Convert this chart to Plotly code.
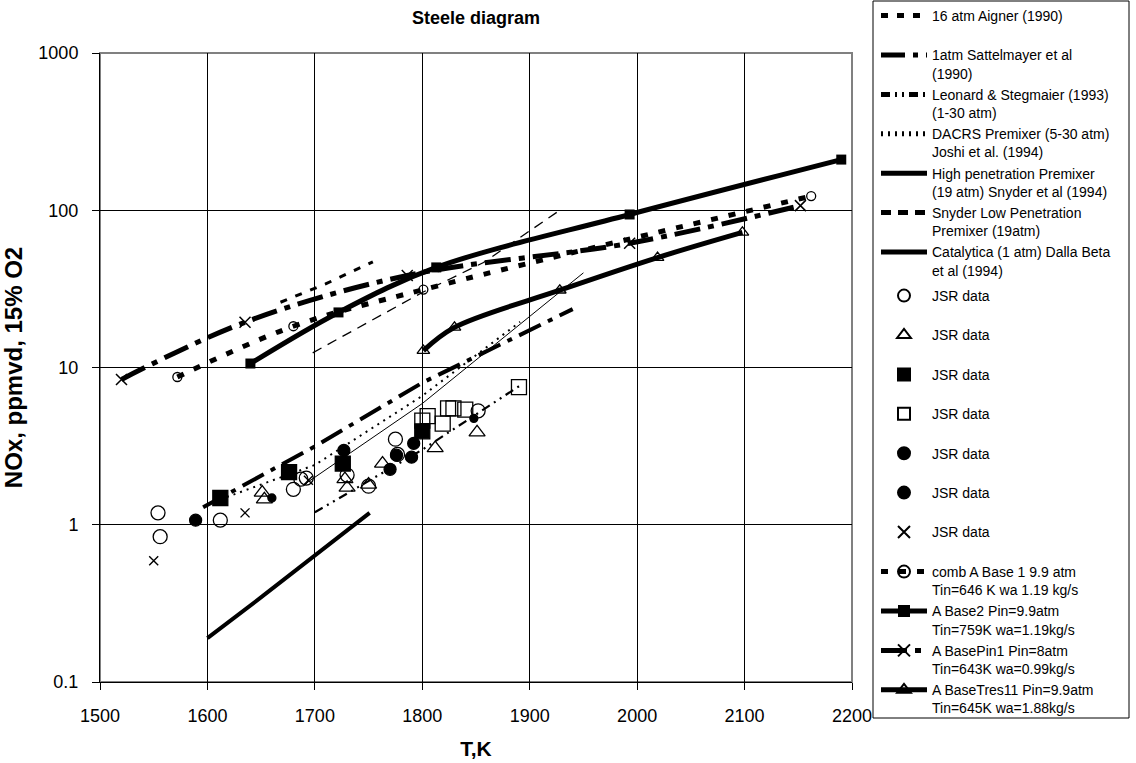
import plotly.graph_objects as go

# ---------------- data ----------------
aigner_T = [1668, 1710, 1754]
aigner_N = [26, 34, 47]

sattel_T = [1596, 1700, 1800, 1940]
sattel_N = [1.29, 3.15, 8.0, 23.5]

leonard_T = [1700, 1800, 1890]
leonard_N = [1.2, 3.0, 7.6]

dacrs_T = [1612, 1700, 1800, 1891]
dacrs_N = [1.45, 2.4, 6.6, 19.5]

highpen_T = [1690, 1800, 1950]
highpen_N = [1.8, 5.9, 40]

snyderlow_T = [1698, 1800, 1857, 1928]
snyderlow_N = [12.4, 30, 46.5, 100]

catal_T = [1600, 1651, 1751]
catal_N = [0.19, 0.35, 1.19]

jsr_oc_T = [1554, 1556, 1612, 1680, 1687, 1692, 1730, 1750, 1775, 1777, 1852]
jsr_oc_N = [1.19, 0.84, 1.07, 1.68, 1.95, 1.98, 2.07, 1.76, 3.5, 2.8, 5.3]

jsr_tri_T = [1651, 1653, 1728, 1730, 1750, 1763, 1812, 1851]
jsr_tri_N = [1.6, 1.45, 1.95, 1.72, 1.8, 2.45, 3.07, 3.87]

jsr_fsq_T = [1612, 1676, 1726, 1800]
jsr_fsq_N = [1.48, 2.16, 2.45, 3.93]

jsr_osq_T = [1800, 1805, 1819, 1824, 1829, 1840, 1890]
jsr_osq_N = [4.6, 4.9, 4.4, 5.5, 5.5, 5.4, 7.5]

jsr_fc_T = [1589, 1727, 1770, 1776, 1790, 1792]
jsr_fc_N = [1.07, 2.97, 2.25, 2.77, 2.69, 3.29]

jsr_fcs_T = [1660, 1848]
jsr_fcs_N = [1.48, 4.75]

jsr_x_T = [1550, 1635, 1694]
jsr_x_N = [0.59, 1.19, 1.92]

base1_T = [1572, 1680, 1801, 2162]
base1_N = [8.7, 18.3, 31.3, 123]

base2_T = [1640, 1722, 1813, 1993, 2190]
base2_N = [10.6, 22.4, 43.3, 94, 210]

pin1_T = [1520, 1635, 1786, 1993, 2152]
pin1_N = [8.4, 19.4, 38.5, 61.7, 107]

tres_T = [1801, 1830, 1928, 2019, 2098]
tres_N = [12.8, 18.0, 31, 50, 72.3]

x_ticks = [1500, 1600, 1700, 1800, 1900, 2000, 2100, 2200]
y_ticks = [0.1, 1, 10, 100, 1000]
y_ticktext = ["0.1", "1", "10", "100", "1000"]

NB = "<br>\u00a0"
FONT = "Liberation Sans, Arial, sans-serif"

fig = go.Figure()


def line(T, N, name, width, dash="solid", shape="linear", marker=None, legend="legend"):
    kw = dict(x=T, y=N, name=name, legend=legend,
              line=dict(color="black", width=width, dash=dash, shape=shape))
    if marker is None:
        kw["mode"] = "lines"
    else:
        kw["mode"] = "lines+markers"
        kw["marker"] = marker
    fig.add_trace(go.Scatter(**kw))


def pts(T, N, name, symbol, size, lw=1.3):
    fig.add_trace(go.Scatter(x=T, y=N, name=name, mode="markers", legend="legend2",
                             marker=dict(symbol=symbol, size=size, color="black",
                                         line=dict(color="black", width=lw))))


line(aigner_T, aigner_N, "16 atm Aigner (1990)" + NB, 3, "7px,9px")
line(sattel_T, sattel_N, "1atm Sattelmayer et al<br>(1990)", 4, "24px,8px,5px,8px")
line(leonard_T, leonard_N, "Leonard & Stegmaier (1993)<br>(1-30 atm)", 2.2, "9px,5px,2px,5px,2px,5px")
line(dacrs_T, dacrs_N, "DACRS Premixer (5-30 atm)<br>Joshi et al. (1994)", 2, "2px,5px")
line(highpen_T, highpen_N, "High penetration Premixer<br>(19 atm) Snyder et al (1994)", 1)
line(snyderlow_T, snyderlow_N, "Snyder Low Penetration<br>Premixer (19atm)", 1.3, "10px,7px")
line(catal_T, catal_N, "Catalytica (1 atm) Dalla Beta<br>et al (1994)", 4)

pts(jsr_oc_T, jsr_oc_N, "JSR data" + NB, "circle-open", 14)
pts(jsr_tri_T, jsr_tri_N, "JSR data" + NB, "triangle-up-open", 14)
pts(jsr_fsq_T, jsr_fsq_N, "JSR data" + NB, "square", 15)
pts(jsr_osq_T, jsr_osq_N, "JSR data" + NB, "square-open", 15)
pts(jsr_fc_T, jsr_fc_N, "JSR data" + NB, "circle", 12)
pts(jsr_fcs_T, jsr_fcs_N, "JSR data" + NB, "circle", 8)
pts(jsr_x_T, jsr_x_N, "JSR data" + NB, "x-thin-open", 9, 1.4)

line(base1_T, base1_N, "comb A Base 1 9.9 atm<br>Tin=646 K wa 1.19 kg/s", 5, "7px,11px", "spline",
     dict(symbol="circle-open", size=9, color="black", line=dict(width=1.3, color="black")), "legend3")
line(base2_T, base2_N, "A Base2 Pin=9.9atm<br>Tin=759K wa=1.19kg/s", 5, "solid", "spline",
     dict(symbol="square", size=10, color="black"), "legend3")
line(pin1_T, pin1_N, "A BasePin1 Pin=8atm<br>Tin=643K wa=0.99kg/s", 5, "26px,8px,6px,8px", "spline",
     dict(symbol="x-thin-open", size=11, color="black", line=dict(width=1.5, color="black")), "legend3")
line(tres_T, tres_N, "A BaseTres11 Pin=9.9atm<br>Tin=645K wa=1.88kg/s", 5, "solid", "spline",
     dict(symbol="triangle-up-open", size=11, color="black", line=dict(width=1.3, color="black")), "legend3")

# plot area geometry (px)
L, R, TOP, BOT = 100, 852, 53, 682
W, H = 1136, 763


def px_x(p):
    return (p - L) / (R - L)


def px_y(p):
    return (BOT - p) / (BOT - TOP)


def leg(top_px):
    return dict(x=px_x(876), y=px_y(top_px), xanchor="left", yanchor="top",
                bgcolor="rgba(0,0,0,0)", borderwidth=0,
                font=dict(size=14, family=FONT), valign="top",
                itemsizing="constant", itemwidth=46, tracegroupgap=0)


fig.update_layout(
    width=W, height=H,
    margin=dict(l=L, r=W - R, t=TOP, b=H - BOT, pad=0, autoexpand=False),
    paper_bgcolor="white", plot_bgcolor="white",
    font=dict(family=FONT, color="black", size=16),
    title=dict(text="<b>Steele diagram</b>", x=0.5, xref="paper", xanchor="center",
               y=1 - 18 / H, yref="container", yanchor="middle",
               font=dict(size=18, family=FONT)),
    showlegend=True,
    legend=leg(0),
    legend2=leg(280),
    legend3=leg(556),
    xaxis=dict(range=[1500, 2200], tickvals=x_ticks, showgrid=True, gridcolor="black", gridwidth=1,
               showline=True, linecolor="black", linewidth=1, ticks="outside", ticklen=7,
               tickcolor="black", tickfont=dict(size=18, family=FONT), ticklabelstandoff=10,
               title=dict(text="<b>T,K</b>", font=dict(size=21, family=FONT), standoff=16),
               zeroline=False),
    yaxis=dict(type="log", range=[-1, 3], tickvals=y_ticks, ticktext=y_ticktext,
               showgrid=True, gridcolor="black", gridwidth=1,
               showline=True, linecolor="black", linewidth=1, ticks="outside", ticklen=7,
               tickcolor="black", tickfont=dict(size=18, family=FONT), ticklabelstandoff=10,
               title=dict(text="<b>NOx, ppmvd, 15% O2</b>", font=dict(size=24, family=FONT), standoff=8),
               zeroline=False),
    shapes=[
        dict(type="rect", xref="paper", yref="paper", x0=0, x1=1, y0=0, y1=1,
             line=dict(color="#808080", width=2), layer="below"),
        dict(type="rect", xref="paper", yref="paper", x0=px_x(873), x1=px_x(1129),
             y0=px_y(718), y1=px_y(1), line=dict(color="black", width=1),
             fillcolor="white", layer="above"),
    ],
)

fig.write_html("out.html")
